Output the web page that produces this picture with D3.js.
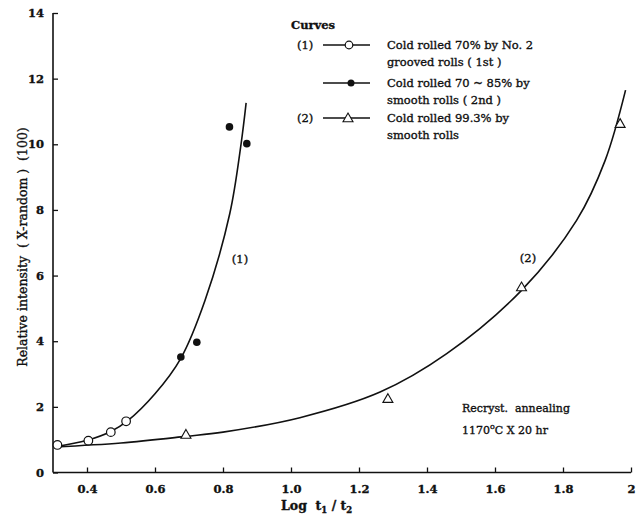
<!DOCTYPE html>
<html>
<head>
<meta charset="utf-8">
<script src="https://cdn.jsdelivr.net/npm/d3@7/dist/d3.min.js"></script>
<style>
  html, body { margin: 0; padding: 0; background: #fff; }
  svg { display: block; }
  text { font-family: "DejaVu Serif", "Liberation Serif", serif; fill: #111; stroke: #111; stroke-width: 0.35px; }
</style>
</head>
<body>
<svg id="chart" width="640" height="525"></svg>
<script>
// Measured points (log t1/t2, relative intensity)
const series1Open   = [[0.313, 0.84], [0.404, 0.97], [0.470, 1.23], [0.515, 1.56]];
const series1Filled = [[0.676, 3.52], [0.723, 3.97], [0.819, 10.53], [0.870, 10.02]];
const series2Tri    = [[0.691, 1.16], [1.285, 2.25], [1.678, 5.65], [1.968, 10.63]];

// Smooth fitted curves drawn through the data
const curve1 = [[0.305, 0.78], [0.40, 0.98], [0.47, 1.25], [0.52, 1.58], [0.60, 2.40],
                [0.676, 3.48], [0.747, 5.24], [0.82, 7.89], [0.853, 10.0], [0.868, 11.26]];
const curve2 = [[0.305, 0.78], [0.50, 0.90], [0.69, 1.10], [0.80, 1.23], [1.026, 1.67],
                [1.262, 2.45], [1.458, 3.62], [1.678, 5.55], [1.84, 7.68], [1.924, 9.51], [1.984, 11.65]];

const xTicks = [0.4, 0.6, 0.8, 1.0, 1.2, 1.4, 1.6, 1.8, 2.0];
const xTickLabels = ["0.4", "0.6", "0.8", "1.0", "1.2", "1.4", "1.6", "1.8", "2"];
const yTicks = [0, 2, 4, 6, 8, 10, 12, 14];

const legendRows = [
  { tag: "(1)", marker: "open",   lines: ["Cold rolled 70% by No. 2", "grooved rolls ( 1st )"] },
  { tag: "",    marker: "filled", lines: ["Cold rolled 70 ~ 85% by", "smooth rolls ( 2nd )"] },
  { tag: "(2)", marker: "tri",    lines: ["Cold rolled 99.3% by", "smooth rolls"] }
];

const svg = d3.select("#chart");
svg.append("rect").attr("width", 640).attr("height", 525).attr("fill", "#fff");

const x = d3.scaleLinear().domain([0.3, 2.0]).range([53, 631]);
const y = d3.scaleLinear().domain([0, 14]).range([472.5, 13]);

// Axes (ticks point inward)
const xAxis = d3.axisBottom(x).tickValues(xTicks).tickSize(-5).tickPadding(12)
  .tickFormat((d, i) => xTickLabels[i]);
const gx = svg.append("g").attr("transform", `translate(0,${y(0)})`).call(xAxis);
gx.select(".domain").attr("d", `M${x(0.3)},0H${x(2.0)}`).attr("stroke", "#111").attr("stroke-width", 1.6);
gx.selectAll(".tick line").attr("stroke", "#111").attr("stroke-width", 1.3);
gx.selectAll(".tick text").attr("font-size", 11.5).attr("font-weight", "bold")
  .attr("font-family", "DejaVu Serif").attr("fill", "#111").attr("stroke", "none");

const yAxis = d3.axisLeft(y).tickValues(yTicks).tickSize(-5).tickPadding(9);
const gy = svg.append("g").attr("transform", `translate(${x(0.3)},0)`).call(yAxis);
gy.select(".domain").attr("d", `M0,${y(14)}V${y(0)}`).attr("stroke", "#111").attr("stroke-width", 1.6);
gy.selectAll(".tick line").attr("stroke", "#111").attr("stroke-width", 1.3);
gy.selectAll(".tick text").attr("font-size", 11.5).attr("font-weight", "bold")
  .attr("font-family", "DejaVu Serif").attr("fill", "#111").attr("stroke", "none");

// Curves
const line = d3.line().x(d => x(d[0])).y(d => y(d[1])).curve(d3.curveCatmullRom.alpha(0.5));
svg.append("path").datum(curve1).attr("d", line)
  .attr("fill", "none").attr("stroke", "#111").attr("stroke-width", 1.6);
svg.append("path").datum(curve2).attr("d", line)
  .attr("fill", "none").attr("stroke", "#111").attr("stroke-width", 1.6);

// Markers
const triPath = s => `M0,${-s}L${s * 1.0},${s * 0.75}L${-s * 1.0},${s * 0.75}Z`;
svg.selectAll("circle.open").data(series1Open).join("circle")
  .attr("class", "open").attr("cx", d => x(d[0])).attr("cy", d => y(d[1])).attr("r", 4.3)
  .attr("fill", "#fff").attr("stroke", "#111").attr("stroke-width", 1.2);
svg.selectAll("circle.filled").data(series1Filled).join("circle")
  .attr("class", "filled").attr("cx", d => x(d[0])).attr("cy", d => y(d[1])).attr("r", 3.8)
  .attr("fill", "#111");
svg.selectAll("path.tri").data(series2Tri).join("path")
  .attr("class", "tri").attr("transform", d => `translate(${x(d[0])},${y(d[1])})`)
  .attr("d", triPath(5)).attr("fill", "#fff").attr("stroke", "#111").attr("stroke-width", 1.1);

// Curve tags
svg.append("text").attr("x", 240).attr("y", 263).attr("text-anchor", "middle")
  .attr("font-size", 11.5).text("(1)");
svg.append("text").attr("x", 528).attr("y", 262).attr("text-anchor", "middle")
  .attr("font-size", 11.5).text("(2)");

// Annealing condition
svg.append("text").attr("x", 462).attr("y", 412).attr("font-size", 11)
  .attr("xml:space", "preserve").text("Recryst.  annealing");
const n2 = svg.append("text").attr("x", 462).attr("y", 434).attr("font-size", 11);
n2.append("tspan").text("1170");
n2.append("tspan").attr("dy", -5).attr("font-size", 8).text("o");
n2.append("tspan").attr("dy", 5).text("C X 20 hr");

// Legend
svg.append("text").attr("x", 291).attr("y", 29).attr("font-size", 11.5).attr("font-weight", "bold")
  .attr("stroke", "none").text("Curves");
const rowY = [45, 83, 118];
legendRows.forEach((r, i) => {
  const cy = rowY[i];
  if (r.tag) svg.append("text").attr("x", 297).attr("y", cy + 4).attr("font-size", 11.5).text(r.tag);
  svg.append("line").attr("x1", 323).attr("x2", 370).attr("y1", cy).attr("y2", cy)
    .attr("stroke", "#111").attr("stroke-width", 1.5);
  if (r.marker === "open") svg.append("circle").attr("cx", 349).attr("cy", cy).attr("r", 3.8)
    .attr("fill", "#fff").attr("stroke", "#111").attr("stroke-width", 1.2);
  if (r.marker === "filled") svg.append("circle").attr("cx", 351).attr("cy", cy).attr("r", 3.5).attr("fill", "#111");
  if (r.marker === "tri") svg.append("path").attr("transform", `translate(348,${cy})`)
    .attr("d", triPath(5)).attr("fill", "#fff").attr("stroke", "#111").attr("stroke-width", 1.1);
  r.lines.forEach((t, j) => {
    svg.append("text").attr("x", 387).attr("y", cy + 4 + j * 17).attr("font-size", 11.5).text(t);
  });
});

// Axis titles
svg.append("text").attr("transform", "translate(27,247) rotate(-90)").attr("text-anchor", "middle")
  .attr("font-size", 12.5).attr("xml:space", "preserve")
  .text("Relative intensity  ( X-random )  (100)");
const xt = svg.append("text").attr("x", 281).attr("y", 510).attr("font-size", 12.5)
  .attr("font-weight", "bold").attr("stroke", "none").attr("xml:space", "preserve");
xt.append("tspan").text("Log  t");
xt.append("tspan").attr("dy", 3).attr("font-size", 8.5).text("1");
xt.append("tspan").attr("dy", -3).text(" / t");
xt.append("tspan").attr("dy", 3).attr("font-size", 8.5).text("2");
</script>
</body>
</html>
